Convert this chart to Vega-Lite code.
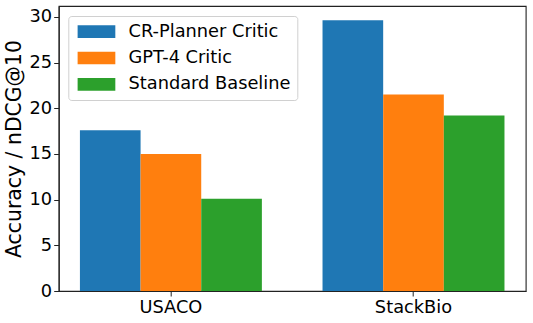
{
  "$schema": "https://vega.github.io/schema/vega-lite/v6.json",
  "width": 467,
  "height": 285,
  "autosize": {"type": "none"},
  "padding": {"left": 58.7, "top": 6, "right": 7.3, "bottom": 32},
  "background": "white",
  "config": {
    "view": {"stroke": "#222222", "strokeWidth": 1.1},
    "font": "DejaVu Sans"
  },
  "data": {
    "values": [
      {"dataset": "USACO", "method": "CR-Planner Critic", "value": 17.6},
      {"dataset": "USACO", "method": "GPT-4 Critic", "value": 15.0},
      {"dataset": "USACO", "method": "Standard Baseline", "value": 10.1},
      {"dataset": "StackBio", "method": "CR-Planner Critic", "value": 29.65},
      {"dataset": "StackBio", "method": "GPT-4 Critic", "value": 21.5},
      {"dataset": "StackBio", "method": "Standard Baseline", "value": 19.2}
    ]
  },
  "mark": {"type": "bar"},
  "encoding": {
    "x": {
      "field": "dataset",
      "type": "nominal",
      "sort": ["USACO", "StackBio"],
      "scale": {"paddingInner": 0.25, "paddingOuter": 0.0875},
      "axis": {
        "title": null,
        "labelAngle": 0,
        "labelFontSize": 17.8,
        "labelColor": "black",
        "labelFont": "DejaVu Sans",
        "tickSize": 5,
        "tickColor": "#222222",
        "domainColor": "#222222",
        "domainWidth": 1.1,
        "labelPadding": 2
      }
    },
    "xOffset": {
      "field": "method",
      "type": "nominal",
      "sort": ["CR-Planner Critic", "GPT-4 Critic", "Standard Baseline"],
      "scale": {"paddingInner": 0, "paddingOuter": 0}
    },
    "y": {
      "field": "value",
      "type": "quantitative",
      "scale": {"domain": [0, 31.2], "nice": false, "zero": true},
      "axis": {
        "title": "Accuracy / nDCG@10",
        "values": [0, 5, 10, 15, 20, 25, 30],
        "grid": false,
        "labelFontSize": 17.8,
        "labelColor": "black",
        "labelFont": "DejaVu Sans",
        "tickSize": 5,
        "tickColor": "#222222",
        "domainColor": "#222222",
        "domainWidth": 1.1,
        "labelPadding": 2,
        "titleFontSize": 20.4,
        "titleFontWeight": "normal",
        "titleColor": "black",
        "titleFont": "DejaVu Sans",
        "titlePadding": 5
      }
    },
    "color": {
      "field": "method",
      "type": "nominal",
      "sort": ["CR-Planner Critic", "GPT-4 Critic", "Standard Baseline"],
      "scale": {"range": ["#1f77b4", "#ff7f0e", "#2ca02c"]},
      "legend": {
        "title": null,
        "orient": "none",
        "legendX": 9.6,
        "legendY": 10,
        "fillColor": "white",
        "strokeColor": "#d0d0d0",
        "cornerRadius": 3,
        "padding": 6.7,
        "symbolType": "M-1,-1H5V1H-1Z",
        "symbolSize": 158,
        "symbolStrokeWidth": 0,
        "symbolOpacity": 1,
        "labelFontSize": 17.8,
        "labelFont": "DejaVu Sans",
        "labelColor": "black",
        "labelOffset": 35.7,
        "labelLimit": 300,
        "rowPadding": 7.4
      }
    }
  }
}
